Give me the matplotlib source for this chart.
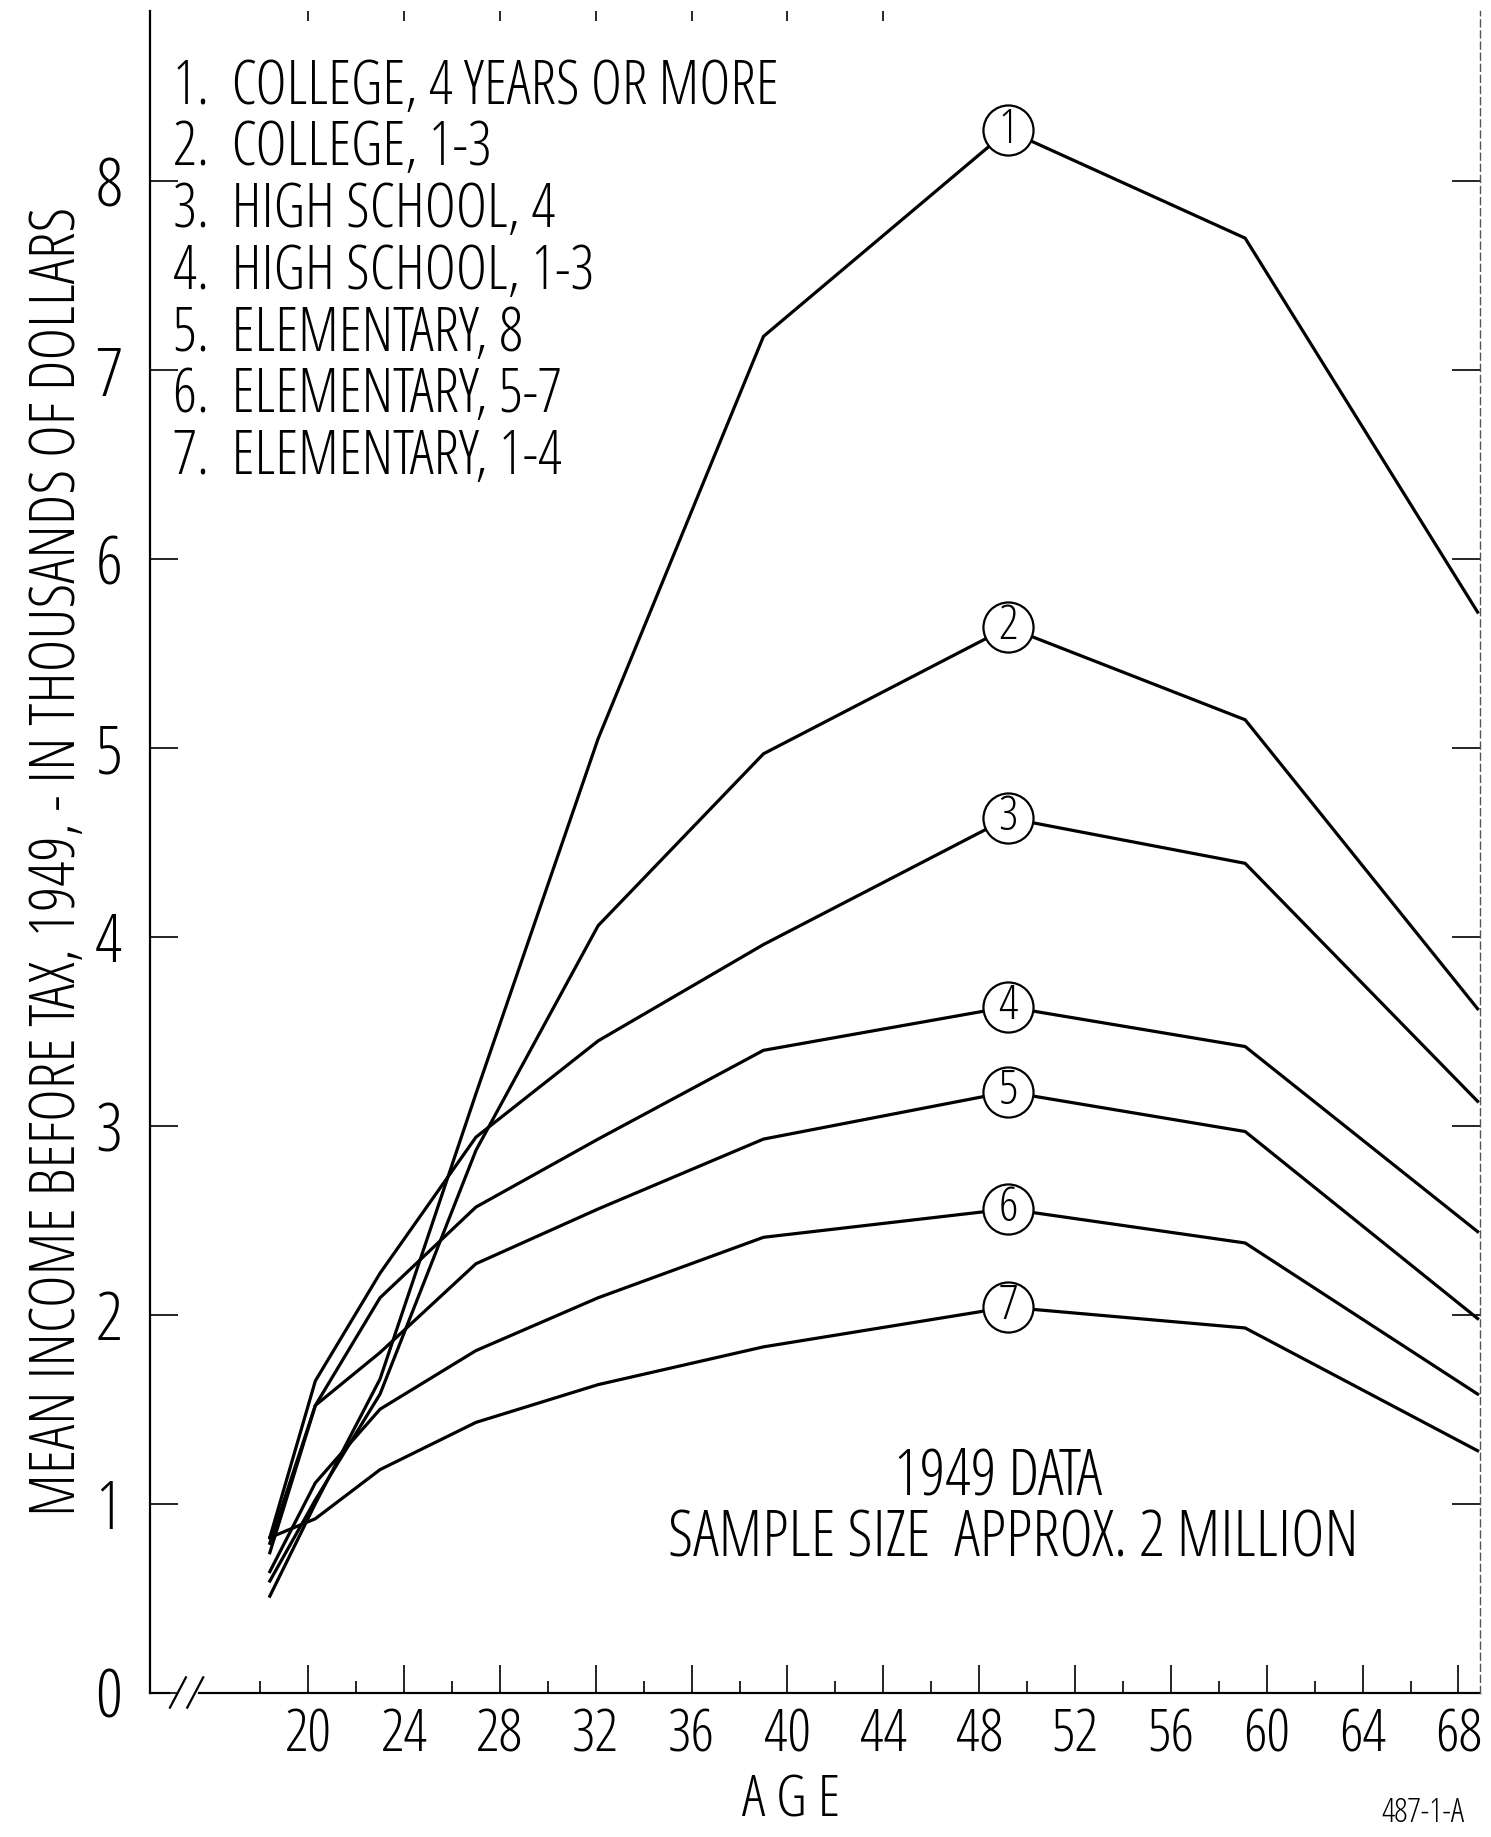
import math
import matplotlib
matplotlib.use("Agg")
import matplotlib.pyplot as plt
from matplotlib.lines import Line2D
from matplotlib import font_manager
from matplotlib.font_manager import FontProperties
from matplotlib.textpath import TextPath

# ---------------- data ----------------
ages = [18.4, 20.3, 23.0, 27.0, 32.1, 39.0, 49.2, 59.1, 68.8]
college_4plus   = [0.51, 1.00, 1.66, 3.17, 5.05, 7.18, 8.27, 7.70, 5.72]
college_1_3     = [0.59, 1.02, 1.58, 2.87, 4.06, 4.97, 5.64, 5.15, 3.62]
high_school_4   = [0.82, 1.65, 2.22, 2.94, 3.45, 3.96, 4.63, 4.39, 3.13]
high_school_1_3 = [0.74, 1.52, 2.09, 2.57, 2.93, 3.40, 3.63, 3.42, 2.44]
elementary_8    = [0.79, 1.52, 1.80, 2.27, 2.56, 2.93, 3.18, 2.97, 1.98]
elementary_5_7  = [0.64, 1.11, 1.50, 1.81, 2.09, 2.41, 2.56, 2.38, 1.58]
elementary_1_4  = [0.82, 0.92, 1.18, 1.43, 1.63, 1.83, 2.04, 1.93, 1.28]

series = [college_4plus, college_1_3, high_school_4, high_school_1_3,
          elementary_8, elementary_5_7, elementary_1_4]
legend_labels = ["1.  COLLEGE, 4 YEARS OR MORE", "2.  COLLEGE, 1-3",
                 "3.  HIGH SCHOOL, 4", "4.  HIGH SCHOOL, 1-3",
                 "5.  ELEMENTARY, 8", "6.  ELEMENTARY, 5-7",
                 "7.  ELEMENTARY, 1-4"]
circle_labels = ["1", "2", "3", "4", "5", "6", "7"]
peak_index = 6

x_major = [20, 24, 28, 32, 36, 40, 44, 48, 52, 56, 60, 64, 68]
x_minor = [18, 22, 26, 30, 34, 38, 42, 46, 50, 54, 58, 62, 66]
x_top = [20, 24, 28, 32, 36, 40, 44]
y_ticks = [0, 1, 2, 3, 4, 5, 6, 7, 8]

# ---------------- pick the narrowest of a few candidate sans faces ----------------
candidates = [("Liberation Sans Narrow", "normal"), ("DejaVu Sans", "condensed"),
              ("Roboto Condensed", "normal"), ("Open Sans", "condensed"),
              ("Noto Sans", "condensed"), ("Roboto", "normal"),
              ("Liberation Sans", "normal"), ("DejaVu Sans", "normal")]
seen = set()
best = None
for fam, stretch in candidates:
    try:
        path = font_manager.findfont(FontProperties(family=fam, stretch=stretch),
                                     fallback_to_default=False)
    except Exception:
        continue
    if path in seen:
        continue
    seen.add(path)
    try:
        w = TextPath((0, 0), "COLLEGE 2468", prop=FontProperties(fname=path),
                     size=100).get_extents().width
    except Exception:
        continue
    if best is None or w < best[0]:
        best = (w, path)

FP = FontProperties(fname=best[1]) if best else FontProperties(family="DejaVu Sans")


def fit(text, target_px, height_pt):
    """font size (pt): geometric mean of the size matching the reference
    letter height and the size matching the reference text width"""
    w100 = TextPath((0, 0), text, prop=FP, size=100).get_extents().width
    width_pt = target_px * 72.0 / 100.0 / (w100 / 100.0)
    return min(math.sqrt(width_pt * height_pt), 1.25 * height_pt)


def fp(size):
    p = FP.copy()
    p.set_size(size)
    return p

# ---------------- figure ----------------
W, H = 1491, 1837
fig = plt.figure(figsize=(W / 100, H / 100), dpi=100)
ax = fig.add_axes([150 / W, 144.5 / H, 1330 / W, 1681 / H])
ax.set_xlim(13.4, 68.9)
ax.set_ylim(0, 8.9)

for vals in series:
    ax.plot(ages, vals, color="black", lw=2.3, solid_joinstyle="miter", zorder=2)

circ_size = fit("8", 20, 28)
for vals, lab in zip(series, circle_labels):
    ax.scatter([ages[peak_index]], [vals[peak_index]], s=1300, marker="o",
               facecolor="white", edgecolor="black", linewidth=1.6, zorder=3)
    ax.text(ages[peak_index], vals[peak_index], lab, ha="center", va="center",
            fontproperties=fp(circ_size), zorder=4)

# spines
ax.spines["top"].set_visible(False)
ax.spines["bottom"].set_visible(False)
ax.spines["left"].set_linewidth(1.6)
ax.spines["right"].set_linewidth(1.0)
ax.spines["right"].set_color("#555555")
ax.spines["right"].set_linestyle((0, (5, 3)))

# bottom axis with break marks (axes-fraction decoration)
lk = dict(transform=ax.transAxes, color="black", lw=1.6, clip_on=False)
ax.add_line(Line2D([0, 0.014], [0, 0], **lk))
ax.add_line(Line2D([0.037, 1.0], [0, 0], **lk))
for cx in (0.021, 0.034):
    ax.add_line(Line2D([cx - 0.006, cx + 0.006], [-0.009, 0.009], **lk))

# ticks
xt_size = fit("20", 47, 38)
yt_size = fit("8", 27, 40)
ax.set_xticks(x_major)
ax.set_xticks(x_minor, minor=True)
ax.set_yticks(y_ticks)
ax.set_xticklabels([str(v) for v in x_major], fontproperties=fp(xt_size))
ax.set_yticklabels([str(v) for v in y_ticks], fontproperties=fp(yt_size))
ax.tick_params(axis="x", which="major", direction="in", length=20, width=1.2,
               pad=10, top=False)
ax.tick_params(axis="x", which="minor", direction="in", length=8.5, width=1.2,
               top=False)
ax.tick_params(axis="y", which="major", direction="in", length=20, width=1.2,
               pad=20, right=True, labelright=False)
for t in ax.yaxis.get_ticklines()[1::2]:
    t.set_color("#333333")

top = ax.secondary_xaxis("top")
top.set_xticks(x_top)
top.tick_params(direction="in", length=7, width=1.2, labeltop=False)
top.spines["top"].set_visible(False)

# legend text block
leg_size = fit(legend_labels[0], 678, 38)
for k, lab in enumerate(legend_labels):
    ax.text(0.0173, 0.9545 - 0.0367 * k, lab, transform=ax.transAxes,
            ha="left", va="center", fontproperties=fp(leg_size))

note_size = fit("SAMPLE SIZE  APPROX. 2 MILLION", 787, 40)
ax.text(0.6376, 0.1276, "1949 DATA", transform=ax.transAxes,
        ha="center", va="center", fontproperties=fp(note_size))
ax.text(0.6489, 0.0907, "SAMPLE SIZE  APPROX. 2 MILLION", transform=ax.transAxes,
        ha="center", va="center", fontproperties=fp(note_size))

ylab = "MEAN INCOME BEFORE TAX, 1949, - IN THOUSANDS OF DOLLARS"
fig.text(58.6 / W, 1 - 861 / H, ylab, rotation=90, ha="center", va="center",
         fontproperties=fp(fit(ylab, 1440, 41)))
fig.text(790.6 / W, 1 - 1802 / H, "A G E", ha="center", va="center",
         fontproperties=fp(42))
fig.text(1423 / W, 1 - 1813 / H, "487-1-A", ha="center", va="center",
         fontproperties=fp(fit("487-1-A", 90, 22)))

fig.savefig("out.png", dpi=100, facecolor="white")
